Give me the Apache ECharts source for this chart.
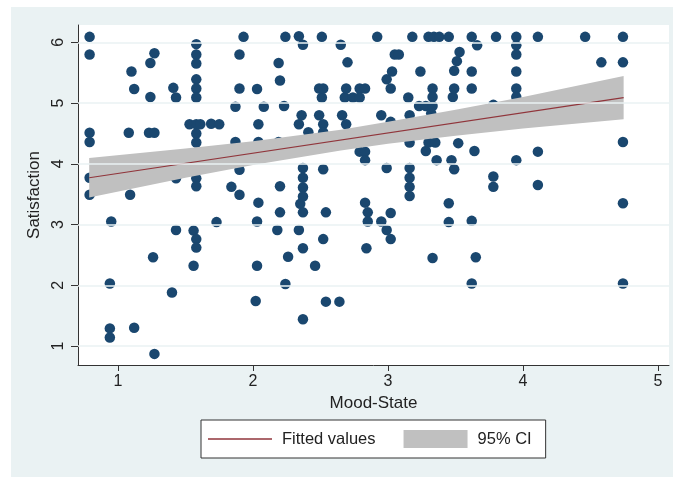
<!DOCTYPE html>
<html>
<head>
<meta charset="utf-8">
<script src="https://cdn.jsdelivr.net/npm/echarts@6/dist/echarts.min.js"></script>
<style>html,body{margin:0;padding:0;background:#fff}#c{width:673px;height:478px}</style>
</head>
<body>
<div id="c"></div>
<script>
// Scatter points (Mood-State, Satisfaction)
const moodState = [
0.79,0.79,0.79,0.79,0.79,0.79, 0.94,0.94,0.94, 0.95, 1.08, 1.09, 1.10, 1.12,1.12, 1.23, 1.24,1.24, 1.26,
1.27,1.27,1.27, 1.40, 1.41, 1.43,1.43,1.43, 1.53, 1.56,1.56,
1.58,1.58,1.58,1.58,1.58,1.58,1.58,1.58,1.58,1.58,1.58,1.58,1.58,
1.61, 1.69, 1.73, 1.75, 1.84, 1.87,1.87, 1.90,1.90,1.90,1.90, 1.93, 2.02, 2.03,2.03,2.03,
2.04,2.04,2.04, 2.08, 2.18, 2.19,2.19, 2.20,2.20,2.20, 2.23, 2.24,2.24, 2.26, 2.34,2.34,2.34, 2.35, 2.36,
2.37,2.37,2.37,2.37,2.37,2.37,2.37,2.37, 2.41, 2.46, 2.49,2.49, 2.51,2.51, 2.52,2.52,2.52,2.52,2.52,
2.54,2.54, 2.64, 2.65, 2.66, 2.68, 2.69,2.69, 2.70, 2.74, 2.79,2.79,2.79, 2.83,2.83,2.83,2.83, 2.84,
2.85,2.85, 2.92, 2.95,2.95, 2.99,2.99,2.99, 3.02,3.02,3.02,3.02, 3.03, 3.05, 3.08, 3.15,
3.16,3.16,3.16,3.16,3.16,3.16, 3.18, 3.23, 3.24, 3.28,3.28, 3.30,3.30, 3.32, 3.33,3.33,3.33,3.33,
3.34, 3.35, 3.36, 3.38, 3.45,3.45,3.45, 3.47, 3.48, 3.49,3.49,3.49, 3.51, 3.52, 3.53,
3.62,3.62,3.62,3.62,3.62, 3.64, 3.65, 3.66, 3.78,3.78,3.78, 3.80,
3.95,3.95,3.95,3.95,3.95,3.95,3.95, 4.11,4.11,4.11, 4.46, 4.58, 4.74,4.74,4.74,4.74,4.74
];
const satisfaction = [
6.09,5.80,4.51,4.36,3.77,3.49, 2.03,1.29,1.14, 3.05, 4.51, 3.49, 5.52, 5.23,1.30, 4.51, 5.66,5.10, 2.46,
5.82,4.51,0.87, 1.88, 5.25, 5.09,3.76,2.91, 4.65, 2.90,2.32,
5.97,5.80,5.65,5.39,5.24,5.09,4.65,4.50,4.35,3.76,3.63,2.76,2.62,
4.65, 4.66, 3.04, 4.65, 3.62, 4.94,4.36, 5.80,5.24,3.90,3.49, 6.09, 1.74, 5.23,3.05,2.32,
4.65,4.36,3.36, 4.94, 2.91, 5.66,4.36, 5.37,3.63,3.20, 4.95, 6.09,2.02, 2.47, 6.10,4.65,2.91, 3.34, 4.80,
5.96,3.93,3.77,3.61,3.46,3.20,2.61,1.44, 4.52, 2.32, 5.24,4.80, 6.09,5.09, 5.24,4.65,4.52,3.91,2.76,
3.20,1.73, 1.73, 5.96, 4.80, 5.09, 5.24,4.65, 5.67, 5.09, 5.24,5.09,4.20, 5.24,4.20,4.06,3.36, 2.61,
3.20,3.05, 6.09, 4.80,3.05, 5.39,3.93,2.91, 5.24,4.69,3.19,2.76, 5.52, 5.80, 5.80, 5.09,
4.80,4.35,3.93,3.77,3.62,3.47, 6.09, 4.95, 5.52, 4.95,4.21, 6.09,4.35, 4.83, 5.24,5.10,4.95,2.45,
6.09, 4.35, 4.06, 6.09, 6.09,3.35,3.04, 4.06, 5.10, 5.53,5.24,3.91, 5.69, 4.34, 5.84,
6.09,5.52,5.24,3.06,2.03, 4.21, 2.46, 5.95, 4.97,3.79,3.62, 6.09,
6.09,5.95,5.80,5.52,5.24,5.10,4.06, 6.09,4.20,3.65, 6.09, 5.67, 6.09,5.67,4.36,3.35,2.03
];
// Fitted line and 95% CI band
const fitX = [0.787, 4.745];
const fitY = [3.77, 5.09];
const ciX  = [0.787, 1.5, 2.0, 2.65, 3.0, 3.5, 4.0, 4.745];
const ciLo = [3.445, 3.77, 3.98, 4.22, 4.33, 4.46, 4.58, 4.735];
const ciHi = [4.095, 4.25, 4.37, 4.56, 4.69, 4.89, 5.10, 5.445];
const xTicks = [1, 2, 3, 4, 5];
const yTicks = [1, 2, 3, 4, 5, 6];

const FONT = 'Liberation Sans, Arial, sans-serif';
const chart = echarts.init(document.getElementById('c'));
chart.setOption({
  animation: false,
  backgroundColor: '#ffffff',
  graphic: [{type:'rect', left: 11, top: 7, shape:{width: 662, height: 470}, style:{fill:'#eaf2f3'}, z: -10, silent: true}],
  grid: {left: 78, top: 25, width: 591, height: 340, show: true, backgroundColor: '#ffffff', borderWidth: 0},
  xAxis: {
    type: 'value', min: 0.704, max: 5.081,
    name: 'Mood-State', nameLocation: 'middle', nameGap: 28,
    nameTextStyle: {fontFamily: FONT, fontSize: 17, color: '#222'},
    axisLine: {show: true, onZero: false, lineStyle: {color: '#333', width: 1}},
    axisTick: {show: true, length: 6, customValues: xTicks, lineStyle: {color: '#333'}},
    axisLabel: {customValues: xTicks, margin: 9, fontFamily: FONT, fontSize: 16, color: '#222'},
    splitLine: {show: false}
  },
  yAxis: {
    type: 'value', min: 0.687, max: 6.285,
    name: 'Satisfaction', nameLocation: 'middle', nameGap: 25, nameRotate: 90,
    nameTextStyle: {fontFamily: FONT, fontSize: 17, color: '#222'},
    axisLine: {show: true, onZero: false, lineStyle: {color: '#333', width: 1}},
    axisTick: {show: true, length: 7, customValues: yTicks, lineStyle: {color: '#333'}},
    axisLabel: {customValues: yTicks, rotate: 90, margin: 11, fontFamily: FONT, fontSize: 16, color: '#222'},
    splitLine: {show: false}
  },
  legend: {
    left: 201, top: 420, orient: 'horizontal',
    backgroundColor: '#fff', borderColor: '#333', borderWidth: 1,
    padding: [10, 14, 10, 7], itemGap: 28, itemWidth: 64, itemHeight: 18,
    textStyle: {fontFamily: FONT, fontSize: 16.5, color: '#222', padding: [0, 0, 0, 5]},
    data: [
      {name: 'Fitted values', icon: 'path://M0,0H64V1.4H0Z'},
      {name: '95% CI', icon: 'rect'}
    ]
  },
  series: [
    {
      type: 'scatter', name: 'pts', z: 2,
      data: moodState.map((x, i) => [x, satisfaction[i]]),
      symbolSize: 10.5, itemStyle: {color: '#1a476f', opacity: 1},
      markLine: {
        silent: true, symbol: 'none', label: {show: false},
        lineStyle: {color: '#eaf2f3', width: 1.5, type: 'solid'},
        data: yTicks.map(v => ({yAxis: v}))
      }
    },
    {
      type: 'custom', name: '95% CI', z: 3, silent: true,
      itemStyle: {color: '#c0c0c0'},
      data: [[ciX[0], ciLo[0]]],
      renderItem: function (params, api) {
        const pts = [];
        for (let i = 0; i < ciX.length; i++) pts.push(api.coord([ciX[i], ciHi[i]]));
        for (let i = ciX.length - 1; i >= 0; i--) pts.push(api.coord([ciX[i], ciLo[i]]));
        return {type: 'polygon', shape: {points: pts}, style: {fill: '#c0c0c0'}};
      }
    },
    {
      type: 'line', name: 'Fitted values', z: 4, symbol: 'none',
      data: fitX.map((x, i) => [x, fitY[i]]),
      lineStyle: {color: '#90353b', width: 1.2},
      itemStyle: {color: '#90353b'}
    }
  ]
});
</script>
</body>
</html>
